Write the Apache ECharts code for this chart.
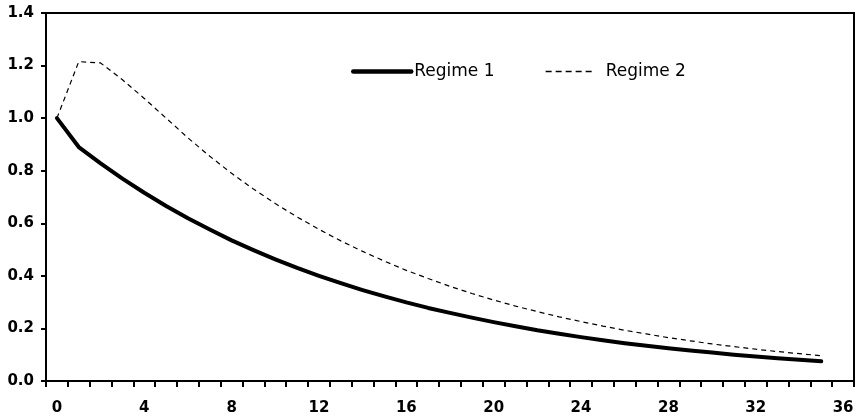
<!DOCTYPE html>
<html>
<head>
<meta charset="utf-8">
<title>Regime chart</title>
<script src="https://cdn.jsdelivr.net/npm/echarts@6/dist/echarts.min.js"></script>
<style>
  html, body { margin: 0; padding: 0; background: #fff; }
  #main { width: 857px; height: 420px; }
</style>
</head>
<body>
<div id="main"></div>
<script>
// horizon 0..36
var periods = [];
for (var i = 0; i <= 36; i++) { periods.push(String(i)); }

var regime1 = [1.000, 0.890, 0.828, 0.770, 0.716, 0.666, 0.619, 0.576, 0.535, 0.498,
  0.463, 0.430, 0.400, 0.372, 0.346, 0.322, 0.299, 0.278, 0.259, 0.241,
  0.224, 0.208, 0.193, 0.180, 0.167, 0.155, 0.144, 0.134, 0.125, 0.116,
  0.108, 0.100, 0.093, 0.087, 0.081, 0.075];

var regime2 = [1.000, 1.215, 1.210, 1.146, 1.075, 1.000, 0.925, 0.855, 0.790, 0.730,
  0.675, 0.624, 0.577, 0.533, 0.493, 0.456, 0.421, 0.390, 0.360, 0.333,
  0.308, 0.285, 0.264, 0.244, 0.226, 0.209, 0.193, 0.179, 0.165, 0.153,
  0.141, 0.131, 0.121, 0.112, 0.104, 0.096];

var yTicks = [0.0, 0.2, 0.4, 0.6, 0.8, 1.0, 1.2, 1.4];

var myChart = echarts.init(document.getElementById('main'), null, { renderer: 'canvas' });

var legendText = { fontFamily: 'DejaVu Sans', fontSize: 17, color: '#000' };

var option = {
  animation: false,
  backgroundColor: '#fff',
  grid: {
    left: 46,
    right: 3,
    top: 13,
    bottom: 39,
    show: true,
    borderColor: '#000',
    borderWidth: 2
  },
  legend: [
    {
      data: ['Regime 1'],
      left: 346,
      top: 58,
      itemWidth: 58,
      itemHeight: 16,
      itemStyle: { opacity: 0 },
      lineStyle: { color: '#000', width: 4.5, cap: 'round' },
      textStyle: Object.assign({ padding: [0, 0, 0, -2] }, legendText)
    },
    {
      data: ['Regime 2'],
      left: 540,
      top: 58,
      itemWidth: 50,
      itemHeight: 16,
      itemStyle: { opacity: 0 },
      lineStyle: { color: '#000', width: 1.3, type: [6, 4] },
      textStyle: Object.assign({ padding: [0, 0, 0, 5] }, legendText)
    }
  ],
  xAxis: {
    type: 'category',
    data: periods,
    boundaryGap: true,
    axisLine: { show: true, lineStyle: { color: '#000', width: 2 } },
    axisTick: { show: true, interval: 0, length: 6, lineStyle: { color: '#000', width: 2 } },
    axisLabel: {
      interval: 3,
      margin: 20,
      color: '#000',
      fontFamily: 'DejaVu Sans',
      fontWeight: 'bold',
      fontSize: 15
    },
    splitLine: { show: false }
  },
  yAxis: {
    type: 'value',
    min: yTicks[0],
    max: yTicks[yTicks.length - 1],
    interval: 0.2,
    axisLine: { show: true, lineStyle: { color: '#000', width: 2 } },
    axisTick: { show: true, length: 5, lineStyle: { color: '#000', width: 2 } },
    axisLabel: {
      margin: 12,
      color: '#000',
      fontFamily: 'DejaVu Sans',
      fontWeight: 'bold',
      fontSize: 15,
      formatter: function (v) { return v.toFixed(1); }
    },
    splitLine: { show: false }
  },
  series: [
    {
      name: 'Regime 1',
      type: 'line',
      data: regime1,
      symbol: 'none',
      color: '#000',
      lineStyle: { color: '#000', width: 4, cap: 'round', join: 'round' }
    },
    {
      name: 'Regime 2',
      type: 'line',
      data: regime2,
      symbol: 'none',
      color: '#000',
      lineStyle: { color: '#000', width: 1.2, type: [5, 4] }
    }
  ]
};

myChart.setOption(option);
</script>
</body>
</html>
